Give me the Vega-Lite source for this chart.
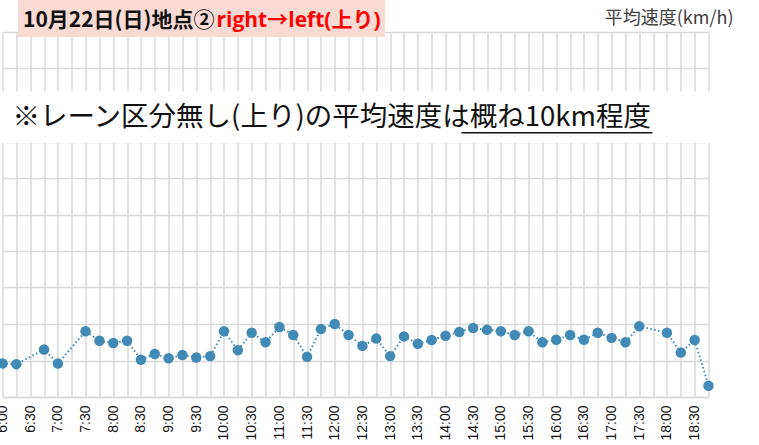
{
  "$schema": "https://vega.github.io/schema/vega-lite/v6.json",
  "width": 706,
  "height": 365,
  "autosize": "none",
  "padding": {"left": 2.5, "top": 32, "right": 50.5, "bottom": 48},
  "background": "white",
  "config": {"view": {"stroke": null}},
  "resolve": {"axis": {"x": "independent", "y": "independent"}},
  "datasets": {
    "speed": [
      {"t": "6:00", "v": 4.6}, {"t": "6:15", "v": 4.5}, {"t": "6:45", "v": 6.5}, {"t": "7:00", "v": 4.6},
      {"t": "7:30", "v": 9.0}, {"t": "7:45", "v": 7.7}, {"t": "8:00", "v": 7.4}, {"t": "8:15", "v": 7.7},
      {"t": "8:30", "v": 5.1}, {"t": "8:45", "v": 5.9}, {"t": "9:00", "v": 5.3}, {"t": "9:15", "v": 5.75},
      {"t": "9:30", "v": 5.4}, {"t": "9:45", "v": 5.6}, {"t": "10:00", "v": 9.0}, {"t": "10:15", "v": 6.4},
      {"t": "10:30", "v": 8.8}, {"t": "10:45", "v": 7.5}, {"t": "11:00", "v": 9.6}, {"t": "11:15", "v": 8.5},
      {"t": "11:30", "v": 5.5}, {"t": "11:45", "v": 9.3}, {"t": "12:00", "v": 10.0}, {"t": "12:15", "v": 8.5},
      {"t": "12:30", "v": 7.0}, {"t": "12:45", "v": 8.0}, {"t": "13:00", "v": 5.6}, {"t": "13:15", "v": 8.3},
      {"t": "13:30", "v": 7.3}, {"t": "13:45", "v": 7.8}, {"t": "14:00", "v": 8.4}, {"t": "14:15", "v": 8.9},
      {"t": "14:30", "v": 9.45}, {"t": "14:45", "v": 9.2}, {"t": "15:00", "v": 9.0}, {"t": "15:15", "v": 8.5},
      {"t": "15:30", "v": 9.0}, {"t": "15:45", "v": 7.5}, {"t": "16:00", "v": 7.85}, {"t": "16:15", "v": 8.5},
      {"t": "16:30", "v": 7.85}, {"t": "16:45", "v": 8.8}, {"t": "17:00", "v": 8.1}, {"t": "17:15", "v": 7.5},
      {"t": "17:30", "v": 9.7}, {"t": "18:00", "v": 8.8}, {"t": "18:15", "v": 6.1}, {"t": "18:30", "v": 7.8},
      {"t": "18:45", "v": 1.55}
    ],
    "one": [{"a": 1}]
  },
  "layer": [
    {
      "data": {"name": "speed"},
      "mark": {"type": "line", "color": "#418ab6", "strokeWidth": 2, "strokeDash": [1.5, 2.5]},
      "encoding": {
        "x": {
          "field": "t", "type": "ordinal", "sort": null, "title": null,
          "scale": {"type": "point", "padding": 0, "domain": ["6:00","6:15","6:30","6:45","7:00","7:15","7:30","7:45","8:00","8:15","8:30","8:45","9:00","9:15","9:30","9:45","10:00","10:15","10:30","10:45","11:00","11:15","11:30","11:45","12:00","12:15","12:30","12:45","13:00","13:15","13:30","13:45","14:00","14:15","14:30","14:45","15:00","15:15","15:30","15:45","16:00","16:15","16:30","16:45","17:00","17:15","17:30","17:45","18:00","18:15","18:30","18:45"]},
          "axis": {
            "grid": true, "gridColor": "#d9d9d9", "gridWidth": 1.5,
            "ticks": false, "domain": true, "domainColor": "#d9d9d9", "domainWidth": 1.5,
            "labelAngle": -90, "labelAlign": "right", "labelBaseline": "middle", "labelPadding": 8,
            "labelFont": "Liberation Sans", "labelFontSize": 14, "labelColor": "#111111",
            "labelOverlap": false, "labelBound": false, "labelFlush": false,
            "labelExpr": "slice(datum.label, -2) == '15' || slice(datum.label, -2) == '45' ? '' : datum.label"
          }
        },
        "y": {
          "field": "v", "type": "quantitative", "title": null,
          "scale": {"domain": [0, 50], "nice": false, "zero": true},
          "axis": {"values": [0,5,10,15,20,25,30,35,40,45,50], "grid": true, "gridColor": "#d9d9d9", "gridWidth": 1.5, "labels": false, "ticks": false, "domain": false}
        },
        "order": {"value": null}
      }
    },
    {
      "data": {"name": "speed"},
      "mark": {"type": "point", "filled": true, "opacity": 1, "color": "#418ab6", "size": 110},
      "encoding": {
        "x": {"field": "t", "type": "ordinal", "axis": null},
        "y": {"field": "v", "type": "quantitative", "axis": null}
      }
    },
    {
      "data": {"name": "one"},
      "mark": {"type": "rect", "color": "white", "xOffset": -10, "x2Offset": 60},
      "encoding": {"x": {"datum": "6:00", "type": "ordinal", "axis": null}, "x2": {"datum": "18:45"}, "y": {"datum": 34.8, "type": "quantitative", "axis": null}, "y2": {"datum": 41.9}}
    },
    {
      "data": {"name": "one"},
      "mark": {"type": "rect", "color": "#fadbd4", "xOffset": 15.5, "x2Offset": 382.5},
      "encoding": {"x": {"datum": "6:00", "type": "ordinal", "axis": null}, "x2": {"datum": "6:00"}, "y": {"datum": 49.3, "type": "quantitative", "axis": null}, "y2": {"datum": 54.5}}
    },
    {
      "data": {"name": "one"},
      "mark": {"type": "text", "text": "10月22日(日)地点②", "font": "Noto Sans CJK JP", "fontWeight": "bold", "fontSize": 21, "color": "#111111", "align": "left", "baseline": "middle", "dx": 20.5},
      "encoding": {"x": {"datum": "6:00", "type": "ordinal", "axis": null}, "y": {"datum": 51.5, "type": "quantitative", "axis": null}}
    },
    {
      "data": {"name": "one"},
      "mark": {"type": "text", "text": "right→left(上り)", "font": "Open Sans, Noto Sans CJK JP", "fontWeight": "bold", "fontSize": 21, "color": "#ff0000", "align": "left", "baseline": "middle", "dx": 214},
      "encoding": {"x": {"datum": "6:00", "type": "ordinal", "axis": null}, "y": {"datum": 51.5, "type": "quantitative", "axis": null}}
    },
    {
      "data": {"name": "one"},
      "mark": {"type": "text", "text": "平均速度(km/h)", "font": "Noto Sans CJK JP", "fontSize": 18, "color": "#404040", "align": "right", "baseline": "middle", "dx": 25},
      "encoding": {"x": {"datum": "18:45", "type": "ordinal", "axis": null}, "y": {"datum": 51.8, "type": "quantitative", "axis": null}}
    },
    {
      "data": {"name": "one"},
      "mark": {"type": "text", "text": "※レーン区分無し(上り)の平均速度は概ね10km程度", "font": "Noto Sans CJK JP", "fontSize": 27.5, "color": "#111111", "align": "left", "baseline": "middle", "dx": 10},
      "encoding": {"x": {"datum": "6:00", "type": "ordinal", "axis": null}, "y": {"datum": 38.2, "type": "quantitative", "axis": null}}
    },
    {
      "data": {"name": "one"},
      "mark": {"type": "rule", "color": "#111111", "strokeWidth": 1.5, "xOffset": 16, "x2Offset": 13},
      "encoding": {"x": {"datum": "14:00", "type": "ordinal", "axis": null}, "x2": {"datum": "17:30"}, "y": {"datum": 36.2, "type": "quantitative", "axis": null}}
    }
  ]
}
